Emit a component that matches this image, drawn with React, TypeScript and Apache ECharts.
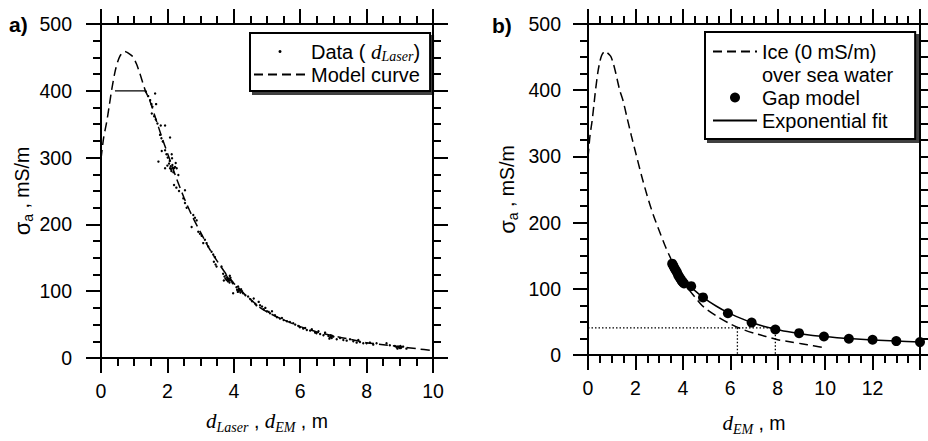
import React, { useEffect, useRef } from "react";
import * as echarts from "echarts";

// ---------- DATA ----------
// Panel a: model curve (dashed), sigma_a (mS/m) vs d (m)
const modelCurve: number[][] = [
  [0, 298], [0.08, 330], [0.17, 353], [0.25, 378], [0.32, 401], [0.42, 428], [0.5, 443],
  [0.57, 452], [0.65, 457], [0.72, 459], [0.8, 457], [0.96, 451], [1.07, 440], [1.17, 426],
  [1.33, 401], [1.48, 384], [1.63, 361], [1.83, 331], [2.0, 307], [2.25, 272], [2.5, 240],
  [2.75, 212], [3.0, 188], [3.25, 165], [3.5, 145], [3.75, 127], [4.0, 112], [4.25, 99],
  [4.5, 88], [4.75, 77], [5.0, 69], [5.5, 57], [6.0, 47], [6.5, 39], [7.0, 33], [7.5, 28],
  [8.0, 23], [8.5, 20], [9.0, 17], [9.5, 14], [10.0, 11],
];
// Panel a: horizontal saturation segment at 400 mS/m
const capSegment: number[][] = [[0.42, 400], [1.33, 400]];
// Panel a: laser-derived data points
const laserData: number[][] = [
  [1.35, 399], [1.42, 392], [1.48, 386], [1.52, 380], [1.55, 376], [1.63, 396], [1.66, 380],
  [1.53, 366], [1.6, 362], [1.65, 357], [1.7, 351], [1.8, 348], [1.93, 348], [1.78, 334],
  [1.82, 329], [1.86, 324], [2.08, 330], [1.83, 310], [1.93, 311], [1.97, 305], [2.01, 300],
  [2.13, 305], [2.14, 299], [1.73, 294], [2.0, 288], [2.05, 291], [2.08, 284], [2.1, 287],
  [2.12, 280], [2.15, 289], [2.18, 278], [2.2, 284], [2.25, 292], [2.23, 286], [2.07, 295],
  [2.11, 283], [2.16, 285], [1.93, 284], [2.28, 284], [2.33, 274], [2.2, 259], [2.27, 255],
  [2.35, 250], [2.53, 251], [2.48, 239], [2.53, 232], [2.58, 225], [2.78, 214], [2.83, 210],
  [2.88, 206], [2.73, 196], [2.93, 189], [2.98, 186], [3.03, 183], [3.13, 177], [3.18, 172],
  [3.23, 167], [3.08, 172], [3.33, 159], [3.38, 155], [3.43, 151], [3.4, 144], [3.45, 140],
  [3.48, 137], [3.63, 137], [3.68, 126], [3.72, 122], [3.75, 119], [3.78, 117], [3.8, 121],
  [3.82, 115], [3.85, 118], [3.87, 113], [3.9, 120], [3.92, 116], [3.95, 114], [3.77, 124],
  [3.88, 123], [3.97, 112], [3.7, 116], [3.83, 119], [3.86, 116], [3.81, 118], [3.98, 97],
  [4.08, 106], [4.1, 102], [4.12, 99], [4.15, 104], [4.18, 101], [4.2, 98], [4.22, 103],
  [4.25, 100], [4.28, 97], [4.13, 107], [4.16, 102], [4.14, 100], [4.43, 92], [4.5, 88],
  [4.55, 85], [4.6, 89], [4.65, 81], [4.68, 79], [4.35, 94], [4.75, 84], [4.79, 79],
  [4.85, 77], [4.9, 73], [4.95, 75], [5.0, 70], [5.05, 69], [5.09, 67], [5.15, 70],
  [5.24, 64], [5.3, 61], [5.39, 59], [5.45, 60], [5.5, 57], [5.6, 55], [5.69, 54],
  [5.79, 52], [5.85, 50], [5.95, 48], [5.99, 46], [6.09, 44], [6.15, 45], [6.2, 42],
  [6.3, 41], [6.35, 43], [6.45, 38], [6.49, 37], [6.55, 40], [6.6, 36], [6.7, 34],
  [6.75, 38], [6.85, 33], [6.9, 31], [6.92, 34], [6.95, 30], [7.0, 32], [6.88, 29],
  [6.93, 32], [6.97, 33], [7.1, 28], [7.2, 30], [7.3, 27], [7.4, 26], [7.5, 28], [7.6, 25],
  [7.7, 23], [7.75, 27], [7.8, 24], [7.9, 22], [8.0, 22], [8.1, 23], [8.2, 20], [8.3, 22],
  [8.6, 22], [8.7, 19], [8.85, 18], [8.9, 16], [8.95, 17], [9.0, 15], [9.02, 18],
  [9.05, 16], [8.93, 14], [9.1, 17], [9.2, 14], [8.98, 16], [9.0, 17], [9.03, 15],
];
// Panel b: gap model points
const gapModel: number[][] = [
  [3.55, 138], [3.6, 135], [3.65, 131], [3.7, 128], [3.75, 125], [3.8, 121], [3.85, 118],
  [3.9, 115], [3.95, 112], [4.0, 110], [4.05, 108], [4.35, 104], [4.85, 87], [5.9, 63],
  [6.9, 49], [7.9, 38.5], [8.9, 33], [9.95, 28], [11.0, 24.5], [12.0, 23], [13.0, 21], [14.0, 19.5],
];
// Panel b: exponential fit (solid)
const expFit: number[][] = [
  [3.55, 137], [4.0, 112], [4.35, 102], [4.85, 87], [5.4, 74], [5.9, 64], [6.4, 56],
  [6.9, 49], [7.4, 43.5], [7.9, 39], [8.4, 35.5], [8.9, 32.5], [9.4, 30], [9.95, 28],
  [10.5, 26.2], [11.0, 24.8], [12.0, 22.7], [13.0, 21], [14.0, 19.8],
];
// Panel b: dotted guide lines
const guideLevel: number[][] = [[0, 41], [7.9, 41]];
const guideIce: number[][] = [[6.3, 41], [6.3, 0]];
const guideFit: number[][] = [[7.9, 41], [7.9, 0]];

const xTicksA = { min: 0, max: 10, interval: 2 };
const xTicksB = { min: 0, max: 14, interval: 2 };
const yTicks = { min: 0, max: 500, interval: 100 };

const SANS = "Liberation Sans";
const SERIF = "Liberation Serif";

function axisBase(showLabel: boolean, margin: number) {
  return {
    type: "value",
    axisLine: { show: true, onZero: false, lineStyle: { color: "#000", width: 2 } },
    axisTick: { show: true, inside: false, length: 15, lineStyle: { color: "#000", width: 2 } },
    minorTick: { show: true, splitNumber: 4, length: 8, lineStyle: { color: "#000", width: 2 } },
    splitLine: { show: false },
    minorSplitLine: { show: false },
    axisLabel: {
      show: showLabel,
      fontSize: 19.5,
      fontFamily: SANS,
      color: "#000",
      margin,
    },
  };
}

const nameRich = {
  n: { fontSize: 19.5, fontFamily: SANS, color: "#000", lineHeight: 26 },
  d: { fontSize: 21, fontFamily: SERIF, fontStyle: "italic", color: "#000", lineHeight: 26 },
  s: { fontSize: 14, fontFamily: SERIF, fontStyle: "italic", color: "#000", lineHeight: 14, verticalAlign: "bottom" },
  g: { fontSize: 22, fontFamily: SANS, color: "#000", lineHeight: 26 },
  a: { fontSize: 14, fontFamily: SANS, color: "#000", lineHeight: 14, verticalAlign: "bottom" },
};

const hideSymbol = { itemStyle: { opacity: 0 } };

export default function App() {
  const ref = useRef<HTMLDivElement>(null);
  useEffect(() => {
    if (!ref.current) return;
    const chart = echarts.init(ref.current, undefined, { renderer: "svg" });
    const yName = "{g|σ}{a|a}{n| , mS/m}";
    const option: any = {
      animation: false,
      backgroundColor: "#fff",
      grid: [
        { left: 101, top: 24, width: 332, height: 334 },
        { left: 588, top: 24, width: 332, height: 334 },
      ],
      xAxis: [
        {
          ...axisBase(true, 23), gridIndex: 0, position: "bottom", ...xTicksA,
          name: "{d|d}{s|Laser}{n| , }{d|d}{s|EM}{n| , m}",
          nameLocation: "middle", nameGap: 50,
          nameTextStyle: { rich: nameRich },
        },
        { ...axisBase(false, 8), gridIndex: 0, position: "top", ...xTicksA },
        {
          ...axisBase(true, 23), gridIndex: 1, position: "bottom", ...xTicksB,
          axisLabel: { ...axisBase(true, 23).axisLabel, showMaxLabel: false },
          name: "{d|d}{s|EM}{n| , m}",
          nameLocation: "middle", nameGap: 55,
          nameTextStyle: { rich: nameRich },
        },
        { ...axisBase(false, 8), gridIndex: 1, position: "top", ...xTicksB },
      ],
      yAxis: [
        {
          ...axisBase(true, 29), gridIndex: 0, position: "left", ...yTicks,
          name: yName, nameLocation: "middle", nameGap: 66,
          nameTextStyle: { rich: nameRich },
        },
        { ...axisBase(false, 8), gridIndex: 0, position: "right", ...yTicks },
        {
          ...axisBase(true, 27), gridIndex: 1, position: "left", ...yTicks,
          name: yName, nameLocation: "middle", nameGap: 68,
          nameTextStyle: { rich: nameRich },
        },
        { ...axisBase(false, 8), gridIndex: 1, position: "right", ...yTicks },
      ],
      legend: [
        {
          left: 250, top: 33, orient: "vertical",
          data: ["Data", { name: "Model curve", ...hideSymbol }],
          selectedMode: false,
          backgroundColor: "#fff", borderColor: "#000", borderWidth: 2,
          shadowColor: "rgba(0,0,0,0.75)", shadowBlur: 1, shadowOffsetX: 3, shadowOffsetY: 3,
          padding: [7, 10, 5, 3], itemGap: 0, itemWidth: 52, itemHeight: 3, itemTextGap: 5,
          formatter: (n: string) => (n === "Data" ? "Data ( {d|d}{s|Laser})" : n),
          textStyle: {
            fontSize: 20, fontFamily: SANS, color: "#000", lineHeight: 23,
            rich: {
              d: { fontSize: 21, fontFamily: SERIF, fontStyle: "italic", color: "#000", lineHeight: 23 },
              s: { fontSize: 14, fontFamily: SERIF, fontStyle: "italic", color: "#000", lineHeight: 14, verticalAlign: "bottom" },
            },
          },
        },
        {
          left: 705, top: 32, orient: "vertical",
          data: [
            { name: "Ice (0 mS/m)", ...hideSymbol },
            { name: "over sea water", ...hideSymbol },
            "Gap model",
            { name: "Exponential fit", ...hideSymbol },
          ],
          selectedMode: false,
          backgroundColor: "#fff", borderColor: "#000", borderWidth: 2,
          shadowColor: "rgba(0,0,0,0.75)", shadowBlur: 1, shadowOffsetX: 3, shadowOffsetY: 3,
          padding: [8, 22, 7, 7], itemGap: 0, itemWidth: 44, itemHeight: 10, itemTextGap: 5,
          textStyle: { fontSize: 20, fontFamily: SANS, color: "#000", lineHeight: 23 },
        },
      ],
      series: [
        {
          type: "line", name: "Model curve", xAxisIndex: 0, yAxisIndex: 0, data: modelCurve,
          symbol: "none", showSymbol: false, smooth: 0.25,
          lineStyle: { color: "#000", width: 1.5, type: [9, 5] }, itemStyle: { color: "#000" },
        },
        {
          type: "line", name: "cap", xAxisIndex: 0, yAxisIndex: 0, data: capSegment,
          symbol: "none", lineStyle: { color: "#000", width: 1.3 },
        },
        {
          type: "scatter", name: "Data", xAxisIndex: 0, yAxisIndex: 0, data: laserData,
          symbol: "circle", symbolSize: 2.4, itemStyle: { color: "#000", opacity: 1 },
        },
        {
          type: "line", name: "Ice (0 mS/m)", xAxisIndex: 2, yAxisIndex: 2, data: modelCurve,
          symbol: "none", showSymbol: false, smooth: 0.25,
          lineStyle: { color: "#000", width: 1.5, type: [9, 5] }, itemStyle: { color: "#000" },
        },
        {
          type: "line", name: "over sea water", xAxisIndex: 2, yAxisIndex: 2, data: [],
          symbol: "none", lineStyle: { color: "#fff", width: 0, opacity: 0 }, itemStyle: { color: "#fff", opacity: 0 },
        },
        {
          type: "line", name: "guideLevel", xAxisIndex: 2, yAxisIndex: 2, data: guideLevel,
          symbol: "none", lineStyle: { color: "#000", width: 1.3, type: [1.5, 2] },
        },
        {
          type: "line", name: "guideIce", xAxisIndex: 2, yAxisIndex: 2, data: guideIce,
          symbol: "none", lineStyle: { color: "#000", width: 1.3, type: [1.5, 2] },
        },
        {
          type: "line", name: "guideFit", xAxisIndex: 2, yAxisIndex: 2, data: guideFit,
          symbol: "none", lineStyle: { color: "#000", width: 1.3, type: [1.5, 2] },
        },
        {
          type: "line", name: "Exponential fit", xAxisIndex: 2, yAxisIndex: 2, data: expFit,
          symbol: "none", showSymbol: false, smooth: 0.3,
          lineStyle: { color: "#000", width: 1.5 }, itemStyle: { color: "#000" },
        },
        {
          type: "scatter", name: "Gap model", xAxisIndex: 2, yAxisIndex: 2, data: gapModel,
          symbol: "circle", symbolSize: 10, clip: false, itemStyle: { color: "#000", opacity: 1 }, z: 5,
        },
      ],
      graphic: [
        {
          type: "text", x: 9, y: 24,
          style: { text: "a)", fontSize: 21, fontWeight: "bold", fontFamily: SANS, fill: "#000", verticalAlign: "middle" },
        },
        {
          type: "text", x: 492, y: 25,
          style: { text: "b)", fontSize: 21, fontWeight: "bold", fontFamily: SANS, fill: "#000", verticalAlign: "middle" },
        },
      ],
    };
    chart.setOption(option);
    return () => chart.dispose();
  }, []);
  return (
    <div
      ref={ref}
      style={{ position: "fixed", left: 0, top: 0, width: 928, height: 441, background: "#fff" }}
    />
  );
}
